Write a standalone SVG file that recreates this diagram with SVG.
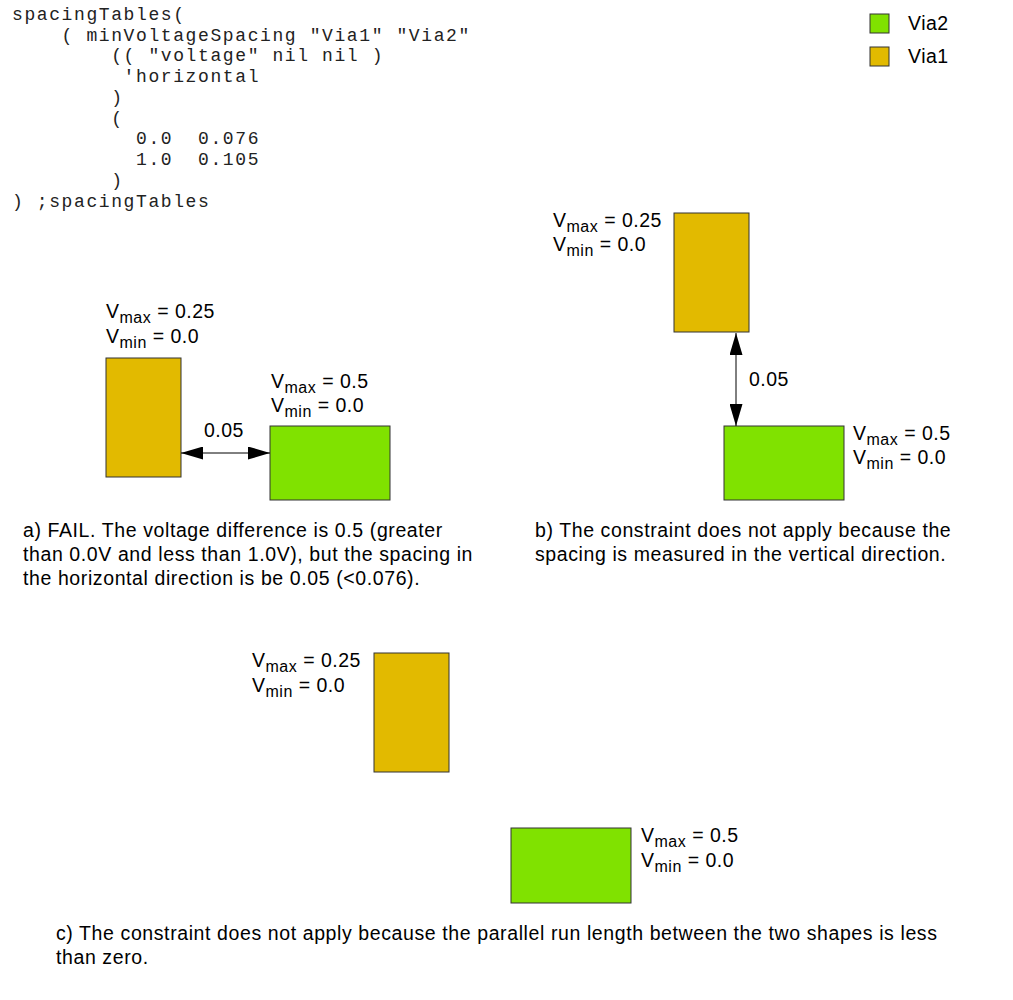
<svg xmlns="http://www.w3.org/2000/svg" width="1013" height="1000" viewBox="0 0 1013 1000">
<defs>
<style>
.code{font-family:"Liberation Mono","Courier New",monospace;font-size:18px;letter-spacing:1.6px;fill:#222;white-space:pre}
.lbl{font-family:"Liberation Sans",Arial,sans-serif;font-size:19.5px;letter-spacing:0.5px;fill:#000}
.sub{font-size:16px}
.cap{font-family:"Liberation Sans",Arial,sans-serif;font-size:19.5px;letter-spacing:0.6px;fill:#000}
.v1{fill:#e2ba00;stroke:#333;stroke-width:1}
.v2{fill:#80e200;stroke:#333;stroke-width:1}
.dim{stroke:#000;stroke-width:1;fill:none;marker-start:url(#ah);marker-end:url(#ah)}
</style>
<marker id="ah" markerUnits="userSpaceOnUse" markerWidth="22" markerHeight="13" refX="22" refY="6.5" orient="auto-start-reverse">
<path d="M0,0 L22,6.5 L0,13 Z" fill="#000"/>
</marker>
</defs>
<rect width="1013" height="1000" fill="#fff"/>

<g id="code">
<text class="code" x="12" y="20" xml:space="preserve">spacingTables(</text>
<text class="code" x="12" y="41" xml:space="preserve">    ( minVoltageSpacing "Via1" "Via2"</text>
<text class="code" x="12" y="61" xml:space="preserve">        (( "voltage" nil nil )</text>
<text class="code" x="12" y="82" xml:space="preserve">         'horizontal</text>
<text class="code" x="12" y="103" xml:space="preserve">        )</text>
<text class="code" x="12" y="124" xml:space="preserve">        (</text>
<text class="code" x="12" y="144" xml:space="preserve">          0.0  0.076</text>
<text class="code" x="12" y="165" xml:space="preserve">          1.0  0.105</text>
<text class="code" x="12" y="186" xml:space="preserve">        )</text>
<text class="code" x="12" y="207" xml:space="preserve">) ;spacingTables</text>
</g>

<g id="legend">
<rect class="v2" x="870" y="14" width="19" height="19"/>
<text class="lbl" x="908" y="30">Via2</text>
<rect class="v1" x="870" y="47" width="19" height="19"/>
<text class="lbl" x="908" y="63">Via1</text>
</g>

<g id="panel-a">
<g id="a-via1">
<rect class="v1" x="106" y="358" width="75" height="119"/>
<text class="lbl" x="106" y="318">V<tspan class="sub" dy="5">max</tspan><tspan dy="-5"> = 0.25</tspan></text>
<text class="lbl" x="106" y="343">V<tspan class="sub" dy="5">min</tspan><tspan dy="-5"> = 0.0</tspan></text>
</g>
<g id="a-via2">
<rect class="v2" x="270" y="426" width="120" height="74"/>
<text class="lbl" x="271" y="388">V<tspan class="sub" dy="5">max</tspan><tspan dy="-5"> = 0.5</tspan></text>
<text class="lbl" x="271" y="412">V<tspan class="sub" dy="5">min</tspan><tspan dy="-5"> = 0.0</tspan></text>
</g>
<text class="cap" x="23" y="537">a) FAIL. The voltage difference is 0.5 (greater</text>
<text class="cap" x="23" y="561">than 0.0V and less than 1.0V), but the spacing in</text>
<text class="cap" x="23" y="585">the horizontal direction is be 0.05 (&lt;0.076).</text>
</g>

<g id="panel-b">
<g id="b-via1">
<rect class="v1" x="674" y="213" width="75" height="119"/>
<text class="lbl" x="553" y="227">V<tspan class="sub" dy="5">max</tspan><tspan dy="-5"> = 0.25</tspan></text>
<text class="lbl" x="553" y="251">V<tspan class="sub" dy="5">min</tspan><tspan dy="-5"> = 0.0</tspan></text>
</g>
<g id="b-via2">
<rect class="v2" x="724" y="426" width="120" height="74"/>
<text class="lbl" x="853" y="440">V<tspan class="sub" dy="5">max</tspan><tspan dy="-5"> = 0.5</tspan></text>
<text class="lbl" x="853" y="464">V<tspan class="sub" dy="5">min</tspan><tspan dy="-5"> = 0.0</tspan></text>
</g>
<text class="cap" x="535" y="537">b) The constraint does not apply because the</text>
<text class="cap" x="535" y="561">spacing is measured in the vertical direction.</text>
</g>

<g id="panel-c">
<g id="c-via1">
<rect class="v1" x="374" y="653" width="75" height="119"/>
<text class="lbl" x="252" y="667">V<tspan class="sub" dy="5">max</tspan><tspan dy="-5"> = 0.25</tspan></text>
<text class="lbl" x="252" y="692">V<tspan class="sub" dy="5">min</tspan><tspan dy="-5"> = 0.0</tspan></text>
</g>
<g id="c-via2">
<rect class="v2" x="511" y="828" width="120" height="75"/>
<text class="lbl" x="641" y="842">V<tspan class="sub" dy="5">max</tspan><tspan dy="-5"> = 0.5</tspan></text>
<text class="lbl" x="641" y="867">V<tspan class="sub" dy="5">min</tspan><tspan dy="-5"> = 0.0</tspan></text>
</g>
<text class="cap" x="56" y="940">c) The constraint does not apply because the parallel run length between the two shapes is less</text>
<text class="cap" x="56" y="964">than zero.</text>
</g>

<g id="connectors">
<line class="dim" x1="181" y1="453" x2="270" y2="453"/>
<text class="lbl" x="204" y="437">0.05</text>
<line class="dim" x1="736" y1="333" x2="736" y2="426"/>
<text class="lbl" x="749" y="386">0.05</text>
</g>
</svg>
